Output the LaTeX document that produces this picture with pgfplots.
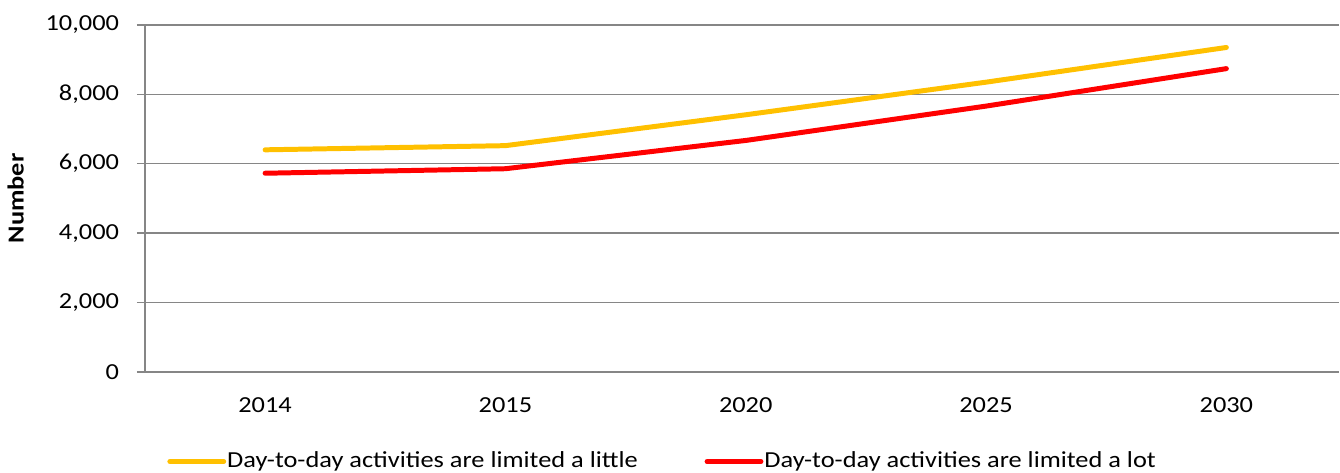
\documentclass[border=0pt]{standalone}
\usepackage{fontspec}
\setmainfont[FakeStretch=1.15]{Carlito}
\usepackage{pgfplots}
\pgfplotsset{compat=1.18}
\definecolor{little}{HTML}{FFC000}
\definecolor{lot}{HTML}{FF0000}
\definecolor{gridgray}{HTML}{868686}
\begin{document}
\fontsize{11.5pt}{13pt}\selectfont
\begin{tikzpicture}
\begin{axis}[
  scale only axis,
  width=599pt, height=174pt,
  xmin=-0.5, xmax=4.47,
  ymin=0, ymax=10000,
  axis x line=bottom, axis y line=left,
  axis line style={-, gridgray, line width=0.7pt},
  xtick={0,1,2,3,4},
  xticklabels={2014,2015,2020,2025,2030},
  x tick style={draw=none},
  extra x ticks={-0.5,0.5,1.5,2.5,3.5},
  extra x tick labels={},
  extra x tick style={tick style={draw=gridgray, line width=0.7pt}, major tick length=4pt, tick align=outside},
  ytick={0,2000,...,10000},
  ymajorgrids,
  grid style={gridgray, line width=0.7pt},
  y tick style={gridgray, line width=0.7pt},
  tick align=outside, major tick length=4pt,
  scaled y ticks=false,
  /pgf/number format/fixed,
  /pgf/number format/1000 sep={,},
  /pgf/number format/assume math mode=true,
  yticklabel style={xshift=-5pt},
  ticklabel style={font=\fontsize{11.5pt}{13pt}\selectfont, text=black},
  xticklabel style={yshift=-5pt},
  ylabel={\textbf{Number}},
  ylabel style={font=\fontsize{11.5pt}{13pt}\selectfont, yshift=3pt},
  legend style={draw=none, at={(0.433,0)}, anchor=center, yshift=-45pt,
    legend columns=2, font=\fontsize{11.5pt}{13pt}\selectfont,
    /tikz/every even column/.append style={column sep=33pt},
    inner sep=0pt, nodes={inner sep=0.5pt}},
  legend cell align=left,
  legend image code/.code={\draw[#1, line width=2.5pt, line cap=round] (0pt,0pt) -- (27pt,0pt);},
]
\addplot[little, line width=2.5pt, line cap=round] coordinates {
  (0,6400) (1,6520) (2,7410) (3,8350) (4,9350)
};
\addlegendentry{Day-to-day activities are limited a little}
\addplot[lot, line width=2.5pt, line cap=round] coordinates {
  (0,5725) (1,5855) (2,6670) (3,7660) (4,8740)
};
\addlegendentry{Day-to-day activities are limited a lot}
\coordinate (top) at (rel axis cs:0,1);
\end{axis}
\path (top) ++(0,12.5pt);
\end{tikzpicture}
\end{document}
